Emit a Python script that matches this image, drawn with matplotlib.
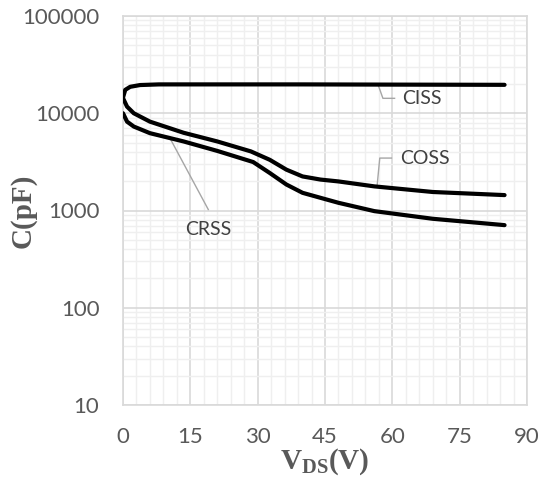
import matplotlib
matplotlib.use("Agg")
import matplotlib.pyplot as plt
from matplotlib.ticker import FixedLocator, LogLocator, NullFormatter, FixedFormatter

# ---- data ----
ciss_v = [0, 0.5, 1.6, 3.8, 8, 20, 40, 60, 85]
ciss_c = [14500, 17400, 18700, 19500, 19800, 19800, 19800, 19700, 19600]

coss_v = [0, 0.9, 2.4, 6, 13.5, 21, 28.5, 32.7, 36.4, 40, 44, 48, 56, 69, 85]
coss_c = [14300, 11700, 10000, 8200, 6300, 5130, 4050, 3320, 2630, 2240, 2080, 1990, 1770, 1550, 1440]

crss_v = [0, 0.9, 2.4, 6, 13.5, 21, 29, 32.7, 36.4, 40, 44, 48, 56, 69, 85]
crss_c = [10000, 8200, 7300, 6240, 5130, 4100, 3150, 2430, 1850, 1520, 1350, 1200, 985, 822, 707]

x_ticks = [0, 15, 30, 45, 60, 75, 90]
y_ticks = [10, 100, 1000, 10000, 100000]
y_tick_labels = ["10", "100", "1000", "10000", "100000"]

# ---- style ----
plt.rcParams['mathtext.fontset'] = 'custom'
plt.rcParams['mathtext.rm'] = 'Liberation Serif:bold'
plt.rcParams['mathtext.bf'] = 'Liberation Serif:bold'
plt.rcParams['mathtext.it'] = 'Liberation Serif:bold'

tick_col = "#595959"
major_col = "#d9d9d9"
minor_col = "#efefef"

fig = plt.figure(figsize=(5.42, 4.82), dpi=100)
ax = fig.add_axes([123 / 542, 1 - 405 / 482, (527 - 123) / 542, (405 - 16) / 482])

ax.set_yscale('log')
ax.set_xlim(0, 90)
ax.set_ylim(10, 100000)

ax.xaxis.set_major_locator(FixedLocator(x_ticks))
ax.xaxis.set_minor_locator(FixedLocator([v for v in range(0, 91, 3) if v % 15 != 0]))
ax.yaxis.set_major_locator(FixedLocator(y_ticks))
ax.yaxis.set_major_formatter(FixedFormatter(y_tick_labels))
ax.yaxis.set_minor_locator(LogLocator(base=10, subs=range(2, 10), numticks=20))
ax.yaxis.set_minor_formatter(NullFormatter())

ax.grid(which='minor', color=minor_col, linewidth=1.0, zorder=0)
ax.grid(which='major', color=major_col, linewidth=1.2, zorder=1)
ax.set_axisbelow(True)
for s in ax.spines.values():
    s.set_color(major_col)
    s.set_linewidth(1.2)

ax.tick_params(which='both', length=0)
ax.tick_params(axis='y', pad=17, labelsize=16, labelcolor=tick_col)
ax.tick_params(axis='x', pad=16, labelsize=16, labelcolor=tick_col)
for lab in ax.get_xticklabels() + ax.get_yticklabels():
    lab.set_fontfamily('Lato')

lw = 3.0
ax.plot(ciss_v, ciss_c, color='black', lw=lw, solid_capstyle='round', solid_joinstyle='round', zorder=3)
ax.plot(coss_v, coss_c, color='black', lw=lw, solid_capstyle='round', solid_joinstyle='round', zorder=3)
ax.plot(crss_v, crss_c, color='black', lw=lw, solid_capstyle='round', solid_joinstyle='round', zorder=3)

# leader lines and labels
lead_col = "#a6a6a6"
ax.plot([56.8, 57.9, 60.5], [19800, 14240, 14240], color=lead_col, lw=1.0, zorder=2)
ax.text(62.2, 14240, "CISS", fontsize=14, family='Lato', color="#404040", ha='left', va='center')
ax.plot([56.6, 57.2, 59.8], [1780, 3460, 3460], color=lead_col, lw=1.0, zorder=2)
ax.text(61.7, 3460, "COSS", fontsize=14, family='Lato', color="#404040", ha='left', va='center')
ax.plot([10.5, 19.0], [5500, 1023], color=lead_col, lw=1.0, zorder=2)
ax.text(19.0, 640, "CRSS", fontsize=14, family='Lato', color="#404040", ha='center', va='center')

ax.set_xlabel(r"$\mathrm{V_{DS}(V)}$", fontsize=21, color=tick_col, labelpad=0)
ax.set_ylabel("C(pF)", fontsize=21, family='Liberation Serif', weight='bold', color=tick_col, labelpad=4)
ax.xaxis.set_label_coords(0.5, -0.105)
ax.yaxis.set_label_coords(-0.213, 0.5)

fig.savefig("out.png", dpi=100)
